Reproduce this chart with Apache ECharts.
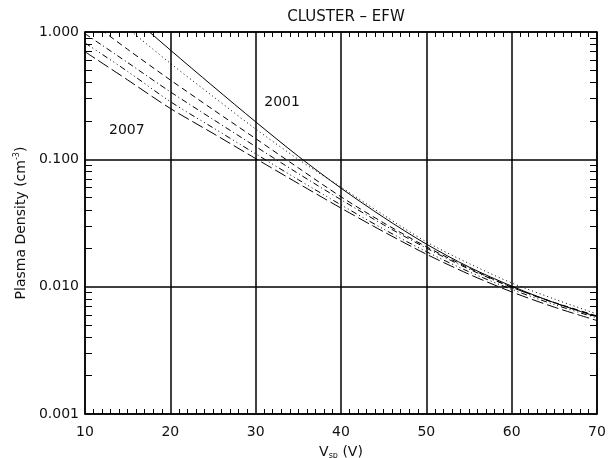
<!DOCTYPE html>
<html>
<head>
<meta charset="utf-8">
<script src="https://cdn.jsdelivr.net/npm/echarts@6/dist/echarts.min.js"></script>
<style>
  html, body { margin: 0; padding: 0; background: #fff; }
  #chart { width: 614px; height: 458px; }
</style>
</head>
<body>
<div id="chart"></div>
<script>
var vsp = [10, 15, 20, 25, 30, 35, 40, 45, 50, 55, 60, 65, 70];

// plasma density (cm^-3), one curve per year, 2001 (solid) ... 2007 (long dashes)
var n2001     = [2.81, 1.41, 0.722, 0.375, 0.197, 0.1057, 0.0594, 0.035, 0.0216, 0.01426, 0.0101, 0.00748, 0.0058];
var nDot      = [2.05, 1.07, 0.568, 0.312, 0.173, 0.100, 0.0605, 0.0365, 0.0225, 0.0152, 0.0107, 0.0080, 0.0061];
var nDash     = [1.30, 0.73, 0.42, 0.246, 0.1455, 0.0857, 0.0508, 0.0317, 0.0206, 0.0140, 0.0099, 0.00752, 0.00589];
var nDashDot  = [0.97, 0.575, 0.339, 0.206, 0.126, 0.0773, 0.0482, 0.0306, 0.0201, 0.01374, 0.00989, 0.00746, 0.00586];
var nDash3Dot = [0.82, 0.49, 0.284, 0.177, 0.1104, 0.0692, 0.0439, 0.0283, 0.01884, 0.0131, 0.00953, 0.00723, 0.00568];
var n2007     = [0.70, 0.42, 0.251, 0.160, 0.1014, 0.0646, 0.0414, 0.027, 0.018, 0.01253, 0.0091, 0.0069, 0.00542];

var xTickLabels = ['10', '20', '30', '40', '50', '60', '70'];
var yTickLabels = ['0.001', '0.010', '0.100', '1.000'];

// minor log ticks 2..9 in every decade
var yMinor = [];
[0.001, 0.01, 0.1].forEach(function (d) {
  for (var m = 2; m <= 9; m++) yMinor.push(+(d * m).toPrecision(3));
});

var FONT = 'DejaVu Sans';
var INK = '#111';

function pairs(ys) {
  return vsp.map(function (x, i) { return [x, ys[i]]; });
}

function curve(name, ys, dash) {
  return {
    name: name,
    type: 'line',
    xAxisIndex: 0,
    yAxisIndex: 0,
    data: pairs(ys),
    smooth: 0.3,
    symbol: 'none',
    clip: true,
    lineStyle: { color: '#000', width: 1, type: dash },
    z: 5
  };
}

function textMark(label, x, y) {
  return {
    silent: true,
    symbol: 'circle',
    symbolSize: 0,
    label: { show: true, position: 'inside', formatter: label, color: INK, fontFamily: FONT, fontSize: 14 },
    data: [{ coord: [x, y] }]
  };
}

var series = [
  curve('2001', n2001, 'solid'),
  curve('dot', nDot, [1, 3]),
  curve('dash', nDash, [6, 4]),
  curve('dashdot', nDashDot, [6, 3, 1, 3]),
  curve('dash3dot', nDash3Dot, [6, 3, 1, 3, 1, 3, 1, 3]),
  curve('2007', n2007, [12, 4])
];
series[0].markPoint = textMark('2001', 33.1, 0.28);
series[5].markPoint = textMark('2007', 14.9, 0.17);

var chart = echarts.init(document.getElementById('chart'), null, { renderer: 'canvas' });

// tick-only log axis (left or right)
function minorLogAxis(pos) {
  return {
    type: 'log',
    logBase: 10,
    position: pos,
    min: 0.001, max: 1,
    axisLine: { show: pos === 'right', onZero: false, lineStyle: { color: '#000', width: 1.5 } },
    axisTick: { show: true, inside: true, length: 7, customValues: yMinor, lineStyle: { color: '#000', width: 1 } },
    axisLabel: { show: false },
    splitLine: { show: false }
  };
}

var option = {
  animation: false,
  backgroundColor: '#fff',
  title: {
    text: 'CLUSTER \u2013 EFW',
    left: 341,
    textAlign: 'center',
    top: 5,
    textStyle: { color: INK, fontFamily: FONT, fontSize: 15, fontWeight: 'normal' }
  },
  grid: { left: 85, right: 17, top: 32, bottom: 44, containLabel: false, outerBoundsMode: 'none' },
  xAxis: [{
    type: 'value',
    min: 10, max: 70, interval: 10,
    name: 'V{sub|sp} (V)',
    nameLocation: 'middle',
    nameGap: 30,
    nameTextStyle: {
      color: INK, fontFamily: FONT, fontSize: 14,
      rich: { sub: { fontSize: 8, verticalAlign: 'bottom', padding: [8, 0, 0, 0], color: INK, fontFamily: FONT } }
    },
    axisLine: { show: true, lineStyle: { color: '#000', width: 1.5 } },
    axisTick: { show: false, inside: true },
    minorTick: { show: true, splitNumber: 10, length: 5, lineStyle: { color: '#000', width: 1 } },
    axisLabel: {
      color: INK, fontFamily: FONT, fontSize: 14, margin: 11,
      formatter: function (v) { return xTickLabels[Math.round((v - 10) / 10)]; }
    },
    splitLine: { show: true, lineStyle: { color: '#000', width: 1.5 } }
  }, {
    type: 'value',
    position: 'top',
    min: 10, max: 70, interval: 10,
    axisLine: { show: true, onZero: false, lineStyle: { color: '#000', width: 1.5 } },
    axisTick: { show: false, inside: true },
    minorTick: { show: true, splitNumber: 10, length: 5, lineStyle: { color: '#000', width: 1 } },
    axisLabel: { show: false },
    splitLine: { show: false }
  }],
  yAxis: [{
    type: 'log',
    logBase: 10,
    min: 0.001, max: 1,
    name: 'Plasma Density (cm{sup|-3})',
    nameLocation: 'middle',
    nameGap: 53,
    nameTextStyle: {
      color: INK, fontFamily: FONT, fontSize: 14,
      rich: { sup: { fontSize: 8, verticalAlign: 'top', padding: [0, 0, 8, 0], color: INK, fontFamily: FONT } }
    },
    axisLine: { show: true, lineStyle: { color: '#000', width: 1.5 } },
    axisTick: { show: false },
    axisLabel: {
      color: INK, fontFamily: FONT, fontSize: 14, margin: 6,
      formatter: function (v) { return yTickLabels[Math.round(Math.log10(v) + 3)]; }
    },
    splitLine: { show: true, lineStyle: { color: '#000', width: 1.5 } }
  }, minorLogAxis('right'), minorLogAxis('left')],
  series: series
};

chart.setOption(option);
</script>
</body>
</html>
